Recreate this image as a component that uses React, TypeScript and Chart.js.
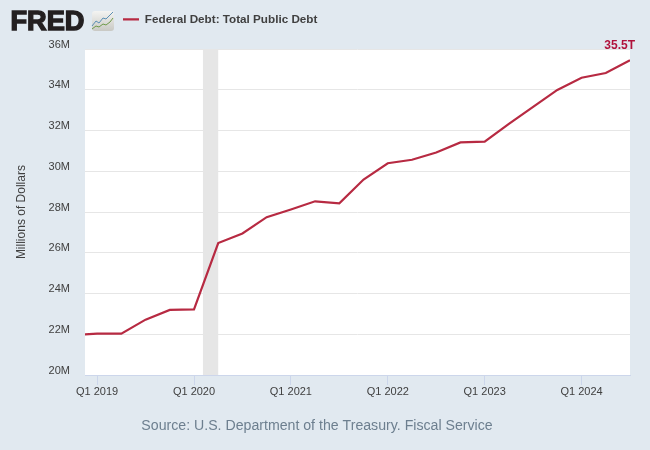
import React, { useEffect, useRef } from "react";
import { Chart, registerables } from "chart.js";

Chart.register(...registerables);

const categories = ["Q4 2018","Q1 2019","Q2 2019","Q3 2019","Q4 2019","Q1 2020","Q2 2020","Q3 2020","Q4 2020","Q1 2021","Q2 2021","Q3 2021","Q4 2021","Q1 2022","Q2 2022","Q3 2022","Q4 2022","Q1 2023","Q2 2023","Q3 2023","Q4 2023","Q1 2024","Q2 2024","Q3 2024"];
const debt = [21.97,22.03,22.03,22.72,23.2,23.22,26.48,26.95,27.75,28.13,28.53,28.43,29.6,30.4,30.57,30.93,31.42,31.46,32.33,33.17,34.0,34.6,34.83,35.46];
const recession = [5.37, 6];
const seriesName = "Federal Debt: Total Public Debt";
const lastLabel = "35.5T";
const sourceText = "Source: U.S. Department of the Treasury. Fiscal Service";
const yAxisTitle = "Millions of Dollars";
const FONT = '"Liberation Sans", Arial, sans-serif';
const RED = "#b72a42";

const decor = {
  id: "decor",
  afterLayout(chart: any) {
    const l = chart.legend;
    if (l) { l.left = 95.5; l.right = 500; l.top = -14; }
  },
  beforeDraw(chart: any) {
    const { ctx, chartArea: a } = chart;
    ctx.save();
    ctx.fillStyle = "#e1e9f0";
    ctx.fillRect(0, 0, chart.width, chart.height);
    ctx.fillStyle = "#ffffff";
    ctx.fillRect(a.left, a.top, a.right - a.left, a.bottom - a.top);
    ctx.restore();
  },
  beforeDatasetsDraw(chart: any) {
    const { ctx, chartArea: a, scales: { x } } = chart;
    ctx.save();
    ctx.fillStyle = "#e6e6e6";
    const x0 = x.getPixelForValue(recession[0]);
    const x1 = x.getPixelForValue(recession[1]);
    ctx.fillRect(x0, a.top, x1 - x0, a.bottom - a.top);
    ctx.restore();
  },
  afterDraw(chart: any) {
    const { ctx, scales: { x, y } } = chart;
    ctx.save();
    ctx.fillStyle = "#b0123b";
    ctx.font = `bold 12px ${FONT}`;
    ctx.textAlign = "right";
    ctx.textBaseline = "alphabetic";
    ctx.fillText(lastLabel, x.getPixelForValue(debt.length - 1) + 5, y.getPixelForValue(debt[debt.length - 1]) - 11);
    ctx.save();
    ctx.fillStyle = "#231f20";
    ctx.strokeStyle = "#231f20";
    ctx.lineWidth = 1.4;
    ctx.font = `bold 27px ${FONT}`;
    ctx.textAlign = "left";
    const w = ctx.measureText("FRED").width;
    ctx.translate(10.5, 30);
    ctx.scale(74 / w, 1);
    ctx.fillText("FRED", 0, 0);
    ctx.strokeText("FRED", 0, 0);
    ctx.restore();
    const g = ctx.createLinearGradient(0, 11, 0, 31);
    g.addColorStop(0, "#f4f4f2");
    g.addColorStop(1, "#c9c9c4");
    ctx.fillStyle = g;
    ctx.beginPath();
    ctx.roundRect(92, 11, 22, 20, 3);
    ctx.fill();
    const icon = (pts: number[][], c: string) => {
      ctx.strokeStyle = c;
      ctx.lineWidth = 1;
      ctx.beginPath();
      pts.forEach((p, i) => (i ? ctx.lineTo(p[0], p[1]) : ctx.moveTo(p[0], p[1])));
      ctx.stroke();
    };
    icon([[92,26],[96,21],[99,23],[103,18],[106,19],[110,15],[113,12]], "#5b8fb5");
    icon([[92,29],[96,26],[99,27],[103,24],[106,25],[110,22],[113,18]], "#6f9a4a");
    ctx.restore();
  },
};

export default function App() {
  const ref = useRef<HTMLCanvasElement>(null);
  useEffect(() => {
    const chart = new Chart(ref.current!, {
      type: "line",
      data: {
        datasets: [{
          label: seriesName,
          data: debt.map((v, i) => ({ x: i, y: v })),
          borderColor: RED,
          backgroundColor: RED,
          borderWidth: 2.2,
          pointRadius: 0,
          tension: 0,
        }],
      },
      plugins: [decor],
      options: {
        responsive: false,
        animation: false,
        layout: { padding: { left: 4, right: 20, top: 0, bottom: 15 } },
        plugins: {
          tooltip: { enabled: false },
          legend: {
            display: true,
            position: "top",
            align: "start",
            labels: {
              font: { family: FONT, size: 11.7, weight: "bold" },
              color: "#404040",
              boxWidth: 16,
              boxHeight: 0,
              padding: 27.5,
            },
          },
          title: {
            display: true,
            position: "bottom",
            text: sourceText,
            color: "#6d7f8f",
            font: { family: FONT, size: 14.15, weight: "normal" },
            padding: { top: 0, bottom: 0 },
          },
        },
        scales: {
          x: {
            type: "linear",
            min: 0.5,
            max: 23,
            afterFit(s: any) { s.height = 43; },
            ticks: {
              stepSize: 4,
              includeBounds: false,
              autoSkip: false,
              maxRotation: 0,
              color: "#404040",
              font: { family: FONT, size: 11 },
              padding: 0,
              callback: (v: any) => categories[v] ?? "",
            },
            afterBuildTicks(s: any) {
              s.ticks = categories.map((c, i) => ({ value: i })).filter((t) => categories[t.value].startsWith("Q1"));
            },
            grid: { drawOnChartArea: false, color: "#ccd6eb", tickLength: 10 },
            border: { color: "#ccd6eb" },
          },
          y: {
            min: 20,
            max: 36,
            afterFit(s: any) { s.width = 81; },
            ticks: {
              stepSize: 2,
              color: "#404040",
              font: { family: FONT, size: 11 },
              padding: 15,
              labelOffset: -4.5,
              callback: (v: any) => `${v}M`,
            },
            grid: { color: "#e6e6e6", drawTicks: false, tickLength: 0 },
            border: { display: false },
            title: {
              display: true,
              text: yAxisTitle,
              color: "#404040",
              font: { family: FONT, size: 12, weight: "normal" },
              padding: { top: 10, bottom: 0 },
            },
          },
        },
      },
    } as any);
    return () => chart.destroy();
  }, []);
  return (
    <div style={{ position: "fixed", left: 0, top: 0, width: 650, height: 450 }}>
      <canvas ref={ref} width={650} height={450} style={{ display: "block" }} />
    </div>
  );
}
